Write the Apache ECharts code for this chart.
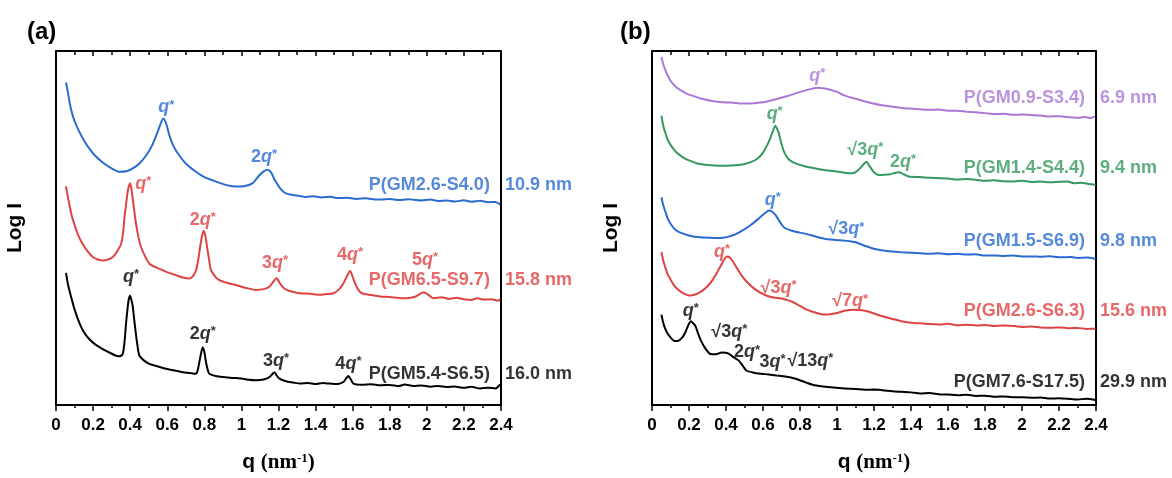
<!doctype html>
<html lang="en">
<head>
<meta charset="utf-8">
<title>SAXS profiles</title>
<script src="https://cdn.jsdelivr.net/npm/echarts@6/dist/echarts.min.js"></script>
<style>
  html, body { margin: 0; padding: 0; background: #fff; }
  #main { width: 1172px; height: 478px; }
</style>
</head>
<body>
<div id="main"></div>
<script>
// ---- panel (a): [q, log I offset] ----
var aBlue = [[0.054,327],[0.065,316],[0.081,300],[0.1,288],[0.126,277],[0.155,267],[0.18,260],[0.21,253],[0.252,246],[0.3,240],[0.342,236.5],[0.38,237],[0.414,240],[0.45,245],[0.486,253],[0.515,262],[0.54,273],[0.56,283],[0.579,290.5],[0.595,285],[0.612,273],[0.635,262],[0.665,253],[0.7,245],[0.755,236.5],[0.8,231],[0.863,226.5],[0.92,223],[0.971,221.5],[1.02,222],[1.061,225],[1.097,233],[1.12,237],[1.142,238.5],[1.16,236],[1.175,230],[1.187,226],[1.208,220],[1.235,215],[1.262,213.5],[1.3,212.5],[1.35,211],[1.388,211.8],[1.43,210.5],[1.48,211.2],[1.52,209.8],[1.568,210.2],[1.62,209],[1.67,209.6],[1.72,208.4],[1.748,208.3],[1.8,209],[1.85,207.8],[1.9,208.6],[1.928,208.2],[1.97,207.4],[2.02,208.3],[2.06,206.9],[2.107,207.4],[2.15,206.4],[2.2,207.6],[2.24,206.2],[2.287,207.2],[2.33,205.6],[2.37,205.9],[2.395,203.5]];
var aRed = [[0.054,221.7],[0.063,212],[0.072,203.3],[0.085,192],[0.099,183.3],[0.12,172],[0.144,163.3],[0.17,156],[0.198,150],[0.225,147.5],[0.252,146.5],[0.28,147.5],[0.306,150],[0.33,156],[0.351,163.3],[0.362,175],[0.369,190],[0.378,204],[0.387,216.7],[0.393,222],[0.399,225],[0.406,220],[0.412,212],[0.42,200],[0.432,183.3],[0.445,170],[0.459,160],[0.48,151],[0.504,143.3],[0.54,139.5],[0.576,136.7],[0.61,134],[0.647,131.7],[0.69,129],[0.719,128.3],[0.74,131],[0.755,136.7],[0.767,147],[0.777,160],[0.787,171],[0.797,176.7],[0.806,171],[0.815,160],[0.826,147],[0.836,136.7],[0.86,130],[0.881,126.7],[0.93,123.5],[0.971,121.7],[1.02,119],[1.079,116.7],[1.12,117.5],[1.151,120],[1.172,125],[1.19,128.5],[1.208,123.3],[1.226,119],[1.244,116.7],[1.28,114.5],[1.316,113.3],[1.37,112.8],[1.424,111.7],[1.46,112.5],[1.496,113.3],[1.525,117],[1.55,123.3],[1.57,131],[1.586,136],[1.6,130],[1.613,123.3],[1.63,117],[1.649,113.3],[1.7,111.5],[1.748,110],[1.8,109.5],[1.85,108.5],[1.892,108.3],[1.94,110],[1.981,114.3],[2.01,111.5],[2.035,108.3],[2.08,109.3],[2.12,107.6],[2.16,108.8],[2.197,107.3],[2.24,106.5],[2.27,108.2],[2.31,106.9],[2.35,107.3],[2.38,105.8],[2.395,106.7]];
var aBlack = [[0.054,134],[0.065,122],[0.081,110],[0.1,97],[0.126,83.3],[0.15,74],[0.18,66.7],[0.215,61],[0.252,56.7],[0.29,53],[0.324,50],[0.345,49.5],[0.36,51.7],[0.37,65],[0.378,83.3],[0.386,98],[0.392,106.7],[0.399,110.7],[0.406,107],[0.414,100],[0.421,88],[0.428,76.7],[0.438,62],[0.45,50],[0.475,45],[0.504,41.7],[0.55,39],[0.594,36.7],[0.64,35],[0.683,33.3],[0.72,32.5],[0.755,31.7],[0.765,36],[0.773,43.3],[0.782,52],[0.791,58.3],[0.8,54],[0.809,43.3],[0.818,36],[0.827,31.7],[0.86,29.5],[0.899,28.3],[0.95,27.5],[1.007,26.7],[1.04,25.5],[1.079,25],[1.12,25.8],[1.151,28.3],[1.165,31],[1.178,33.3],[1.19,30],[1.205,26.7],[1.24,24],[1.28,22.8],[1.316,21.7],[1.36,22.4],[1.4,21.2],[1.44,22.2],[1.478,21.7],[1.52,21.3],[1.55,23.3],[1.565,27],[1.577,29.3],[1.59,26],[1.604,21.7],[1.65,20.6],[1.7,21.1],[1.748,20],[1.8,20.4],[1.85,19.2],[1.88,20.8],[1.928,19.3],[1.97,19.8],[2.02,18.6],[2.06,19.2],[2.107,18.3],[2.15,18.8],[2.2,17.4],[2.24,18.6],[2.287,16.7],[2.33,17.6],[2.37,16.8],[2.395,21]];

// ---- panel (b) ----
var bPurple = [[0.051,353],[0.06,346],[0.071,340],[0.085,334],[0.102,328.3],[0.13,322.5],[0.163,318.3],[0.19,315.5],[0.224,313.3],[0.27,310.5],[0.326,308.3],[0.38,307],[0.428,306.7],[0.49,305.8],[0.55,306],[0.6,307],[0.632,308.3],[0.68,310.5],[0.733,313.3],[0.785,316.5],[0.835,319.3],[0.87,321],[0.897,321.7],[0.925,321.2],[0.958,320],[1.0,317.5],[1.039,314],[1.09,311],[1.141,308.3],[1.19,306],[1.243,304],[1.3,302.5],[1.35,301.3],[1.4,300.6],[1.447,300],[1.5,299.3],[1.55,299.6],[1.6,298.5],[1.65,298.3],[1.7,297.5],[1.75,296.8],[1.8,296],[1.854,295],[1.9,295.4],[1.95,294.3],[2.0,294.6],[2.058,294],[2.1,293.5],[2.15,292.6],[2.2,292.9],[2.261,291.7],[2.3,291.2],[2.34,292],[2.37,291],[2.394,292.7]];
var bGreen = [[0.051,293.3],[0.06,284],[0.071,276.7],[0.085,269],[0.102,263.3],[0.13,256.5],[0.163,251.7],[0.2,248],[0.245,245],[0.3,243.5],[0.367,242.7],[0.43,243],[0.489,244],[0.53,246],[0.571,250],[0.6,256],[0.622,263.3],[0.64,271],[0.653,277.5],[0.667,283.3],[0.676,280],[0.684,276.7],[0.698,266],[0.714,256.7],[0.74,249],[0.776,245],[0.82,242.3],[0.878,240],[0.94,238],[1.0,236.7],[1.04,235.6],[1.082,235],[1.11,237.5],[1.133,241.7],[1.159,246.7],[1.172,243.5],[1.184,240],[1.2,236],[1.224,233.3],[1.255,233.5],[1.286,234],[1.31,235.2],[1.337,236],[1.36,234],[1.388,231.7],[1.45,231.2],[1.5,230.4],[1.551,230],[1.6,229.6],[1.65,228.7],[1.7,229.2],[1.755,228.3],[1.8,227.5],[1.85,228],[1.9,226.8],[1.959,226.7],[2.0,227.4],[2.05,226.2],[2.1,226.7],[2.15,225.8],[2.2,226.3],[2.245,226.7],[2.28,225],[2.32,225.4],[2.36,224.2],[2.398,223.3]];
var bBlue = [[0.051,210.7],[0.06,203],[0.071,196.7],[0.085,189],[0.102,183.3],[0.125,178],[0.15,175],[0.204,171.7],[0.26,170],[0.31,169.5],[0.367,169.3],[0.41,170.5],[0.45,173],[0.49,177],[0.53,182],[0.57,188],[0.6,193],[0.62,196],[0.633,197.3],[0.65,196],[0.67,192],[0.69,186],[0.714,180],[0.76,176.5],[0.8,174.8],[0.837,173.3],[0.89,170.5],[0.939,168.3],[0.99,167.4],[1.041,166.7],[1.07,166],[1.102,165],[1.15,161.5],[1.204,158.3],[1.26,156.5],[1.3,155.6],[1.347,155],[1.4,154.5],[1.449,154],[1.5,153.3],[1.55,154],[1.6,153],[1.653,153.3],[1.7,152.5],[1.75,152.8],[1.8,151.6],[1.857,151.7],[1.9,151.2],[1.95,151.5],[2.0,150.6],[2.061,150.7],[2.1,150.3],[2.15,150.8],[2.2,149.8],[2.265,150],[2.3,149.2],[2.35,149.5],[2.398,148.3]];
var bRed = [[0.051,155],[0.06,147],[0.071,140],[0.085,132.5],[0.102,126.7],[0.12,121],[0.143,116.7],[0.17,113.3],[0.204,111],[0.235,112],[0.265,115],[0.3,120.5],[0.327,126.7],[0.353,135],[0.378,143.3],[0.395,149],[0.408,150.7],[0.42,149.5],[0.439,145],[0.46,138.5],[0.49,130],[0.52,123.5],[0.551,118.3],[0.59,113.5],[0.633,110],[0.665,108.8],[0.694,108.3],[0.725,106.8],[0.755,105],[0.8,100.5],[0.837,96.7],[0.89,93.3],[0.939,91.7],[0.97,92.3],[1.0,93.3],[1.04,95.5],[1.082,96.7],[1.12,96.3],[1.163,95],[1.2,92.8],[1.245,90],[1.3,87.3],[1.347,85],[1.4,83.5],[1.45,82.8],[1.5,82.2],[1.551,81.7],[1.6,82.3],[1.65,81],[1.7,81.5],[1.755,80.7],[1.8,81.2],[1.85,80.2],[1.9,80.5],[1.959,80],[2.0,79.2],[2.05,79.6],[2.1,78.7],[2.163,78.3],[2.2,78.7],[2.25,77.8],[2.3,78.2],[2.35,77.2],[2.398,77.3]];
var bBlack = [[0.051,91.7],[0.06,84],[0.07,78],[0.082,73.3],[0.1,68.5],[0.122,65],[0.14,65],[0.163,68.3],[0.18,73.5],[0.194,80],[0.21,85],[0.222,83],[0.235,80],[0.25,72],[0.265,65],[0.29,57],[0.316,51.7],[0.345,51.5],[0.378,53.3],[0.398,53],[0.418,51.7],[0.44,48.5],[0.469,45],[0.49,40],[0.51,35],[0.55,32.8],[0.592,31.7],[0.63,31],[0.673,30],[0.72,29],[0.776,26.7],[0.83,23],[0.878,20],[0.95,18.2],[1.041,16.7],[1.1,16.3],[1.15,15.5],[1.2,15.6],[1.245,15],[1.3,14],[1.35,13.4],[1.4,12.8],[1.449,11.7],[1.5,12.2],[1.55,11],[1.6,10.6],[1.653,10],[1.7,10.4],[1.75,9.2],[1.8,9.5],[1.857,8.3],[1.9,8.7],[1.95,7.8],[2.0,7.9],[2.061,7.3],[2.1,7.6],[2.15,6.5],[2.2,6.9],[2.265,6],[2.3,5.5],[2.35,6.4],[2.398,5]];

// sample names, domain sizes and where their labels sit (log I units)
var aNames = ['P(GM2.6-S4.0)', 'P(GM6.5-S9.7)', 'P(GM5.4-S6.5)'];
var aSizes = ['10.9 nm', '15.8 nm', '16.0 nm'];
var aLabelY = [223.3, 126.7, 31.7];
var bNames = ['P(GM0.9-S3.4)', 'P(GM1.4-S4.4)', 'P(GM1.5-S6.9)', 'P(GM2.6-S6.3)', 'P(GM7.6-S17.5)'];
var bSizes = ['6.9 nm', '9.4 nm', '9.8 nm', '15.6 nm', '29.9 nm'];
var bLabelY = [311.7, 240, 166.7, 95, 23.3];

// peak indexing notes [q, logI, text]
var aNotes = [
  [[0.595, 301.7, 'q*'], [1.122, 251.7, '2q*']],
  [[0.471, 224, 'q*'], [0.791, 187.3, '2q*'], [1.181, 144, '3q*'], [1.586, 151.7, '4q*'], [1.99, 146.7, '5q*']],
  [[0.405, 130, 'q*'], [0.791, 71.7, '2q*'], [1.187, 45, '3q*'], [1.577, 41.7, '4q*']]
];
var bNotes = [
  [[0.894, 334, 'q*']],
  [[0.663, 295, 'q*'], [1.153, 258.3, '√3q*'], [1.357, 246.7, '2q*']],
  [[0.653, 208.3, 'q*'], [1.05, 178, '√3q*']],
  [[0.378, 155, 'q*'], [0.684, 118.3, '√3q*'], [1.071, 105, '√7q*']],
  [[0.21, 95, 'q*'], [0.418, 74, '√3q*'], [0.514, 53.3, '2q*'], [0.652, 43.3, '3q*'], [0.856, 45, '√13q*']]
];

var SANS = '"Liberation Sans", Arial, sans-serif';
var SERIF = '"Liberation Serif", "Times New Roman", serif';
var BLUE = '#2a6bd0', RED = '#de4343', BLACK = '#000000', PURPLE = '#aa78d6', GREEN = '#36985e';

var chart = echarts.init(document.getElementById('main'));

function xAxes(gi) {
  var line = { onZero: false, lineStyle: { color: '#000', width: 2 } };
  var tickStyle = { color: '#000', width: 1.5 };
  return [{
    type: 'value', gridIndex: gi, position: 'bottom', min: 0, max: 2.4, interval: 0.2,
    name: '{a|q }{b|(nm}{c|-1}{b|)}', nameLocation: 'middle', nameGap: 47,
    nameTextStyle: { rich: {
      a: { fontFamily: SANS, fontWeight: 'bold', fontSize: 21, color: '#000' },
      b: { fontFamily: SERIF, fontWeight: 'bold', fontSize: 21, color: '#000' },
      c: { fontFamily: SERIF, fontWeight: 'bold', fontSize: 13, color: '#000', verticalAlign: 'top' }
    } },
    axisLine: line,
    axisTick: { show: true, inside: false, length: 6, lineStyle: tickStyle },
    minorTick: { show: true, splitNumber: 2, length: 3, lineStyle: tickStyle },
    axisLabel: { fontFamily: SANS, fontWeight: 'bold', fontSize: 17, color: '#000', margin: 12 },
    splitLine: { show: false }
  }, {
    type: 'value', gridIndex: gi, position: 'top', min: 0, max: 2.4, interval: 0.2,
    axisLine: line,
    axisTick: { show: true, inside: true, length: 5, lineStyle: tickStyle },
    minorTick: { show: true, splitNumber: 2, length: 4, lineStyle: tickStyle },
    axisLabel: { show: false },
    splitLine: { show: false }
  }];
}

function yAxes(gi) {
  var line = { show: true, onZero: false, lineStyle: { color: '#000', width: 2 } };
  return [{
    type: 'value', gridIndex: gi, position: 'left', min: 0, max: 359,
    name: 'Log I', nameLocation: 'middle', nameGap: 30,
    nameTextStyle: { fontFamily: SANS, fontWeight: 'bold', fontSize: 21, color: '#000' },
    axisLine: line, axisTick: { show: false }, axisLabel: { show: false }, splitLine: { show: false }
  }, {
    type: 'value', gridIndex: gi, position: 'right', min: 0, max: 359,
    axisLine: line, axisTick: { show: false }, axisLabel: { show: false }, splitLine: { show: false }
  }];
}

function curve(data, color, xi, yi) {
  return {
    type: 'line', data: data, xAxisIndex: xi, yAxisIndex: yi,
    symbol: 'none', smooth: 0.25, silent: true,
    lineStyle: { color: color, width: 2 }
  };
}

function noteText(t) {
  var k = t.indexOf('q');
  var pre = t.slice(0, k);
  return (pre ? '{n|' + pre + '}' : '') + '{i|q}{s|*}';
}

function notesSeries(notes, colors, xi, yi) {
  var items = [];
  notes.forEach(function (list, ci) {
    list.forEach(function (n) {
      items.push({
        value: [n[0], n[1]],
        label: {
          show: true, position: 'inside', formatter: noteText(n[2]),
          rich: {
            n: { fontFamily: SANS, fontWeight: 'bold', fontSize: 18, color: colors[ci] },
            i: { fontFamily: SANS, fontWeight: 'bold', fontStyle: 'italic', fontSize: 18, color: colors[ci] },
            s: { fontFamily: SANS, fontWeight: 'bold', fontSize: 13, color: colors[ci], verticalAlign: 'top' }
          }
        }
      });
    });
  });
  return { type: 'scatter', xAxisIndex: xi, yAxisIndex: yi, symbolSize: 0, silent: true, clip: false, data: items };
}

function nameSeries(names, sizes, ys, colors, xi, yi) {
  var items = [];
  names.forEach(function (nm, i) {
    var st = { show: true, fontFamily: SANS, fontWeight: 'bold', fontSize: 18, color: colors[i] };
    items.push({ value: [2.34, ys[i]], label: Object.assign({ position: 'left', distance: 0, formatter: nm }, st) });
    items.push({ value: [2.4, ys[i]], label: Object.assign({ position: 'right', distance: 4, formatter: sizes[i] }, st) });
  });
  return { type: 'scatter', xAxisIndex: xi, yAxisIndex: yi, symbolSize: 0, silent: true, clip: false, data: items };
}

var aColors = [BLUE, RED, BLACK];
var bColors = [PURPLE, GREEN, BLUE, RED, BLACK];

var option = {
  backgroundColor: '#fff',
  animation: false,
  title: [
    { text: '(a)', left: 22, top: 15, textStyle: { fontFamily: SANS, fontWeight: 'bold', fontSize: 24, color: '#000' } },
    { text: '(b)', left: 615, top: 15, textStyle: { fontFamily: SANS, fontWeight: 'bold', fontSize: 24, color: '#000' } }
  ],
  grid: [
    { left: 56, right: 671, top: 51, bottom: 68 },
    { left: 652, right: 76, top: 51, bottom: 68 }
  ],
  xAxis: xAxes(0).concat(xAxes(1)),
  yAxis: yAxes(0).concat(yAxes(1)),
  series: [
    curve(aBlue, BLUE, 0, 0),
    curve(aRed, RED, 0, 0),
    curve(aBlack, BLACK, 0, 0),
    curve(bPurple, PURPLE, 2, 2),
    curve(bGreen, GREEN, 2, 2),
    curve(bBlue, BLUE, 2, 2),
    curve(bRed, RED, 2, 2),
    curve(bBlack, BLACK, 2, 2),
    notesSeries(aNotes, aColors, 0, 0),
    notesSeries(bNotes, bColors, 2, 2),
    nameSeries(aNames, aSizes, aLabelY, aColors, 0, 0),
    nameSeries(bNames, bSizes, bLabelY, bColors, 2, 2)
  ]
};

chart.setOption(option);
</script>
</body>
</html>
